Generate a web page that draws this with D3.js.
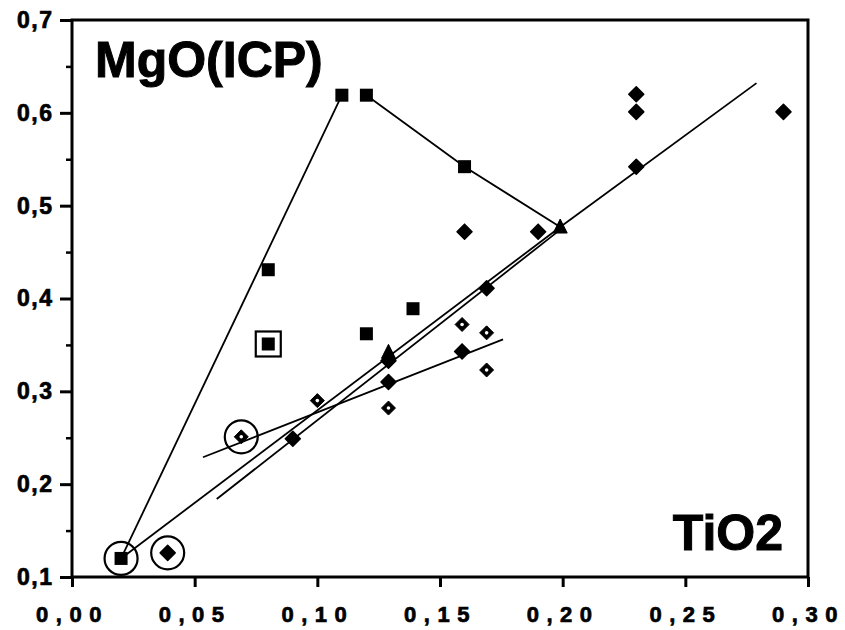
<!DOCTYPE html>
<html><head><meta charset="utf-8">
<script src="https://cdn.jsdelivr.net/npm/d3@7"></script>
<style>
html,body{margin:0;padding:0;background:#fff;}
svg{display:block;}
text{font-family:"Liberation Sans",Arial,Helvetica,sans-serif;font-weight:bold;fill:#000;}
</style></head>
<body>
<script>
// ---- data (TiO2 vs MgO(ICP)) ----
const xTicks = [0.00, 0.05, 0.10, 0.15, 0.20, 0.25, 0.30];
const yTicks = [0.1, 0.2, 0.3, 0.4, 0.5, 0.6, 0.7];
const yMinorTicks = [0.15, 0.25, 0.35, 0.45, 0.55, 0.65];
const squares = [[0.02,0.12],[0.08,0.431],[0.08,0.351],[0.11,0.619],[0.12,0.619],[0.12,0.362],[0.139,0.389],[0.16,0.542]];
const filledDiamonds = [[0.039,0.126],[0.09,0.249],[0.129,0.333],[0.129,0.31],[0.159,0.343],[0.169,0.411],[0.16,0.472],[0.19,0.472],[0.23,0.62],[0.23,0.601],[0.23,0.542],[0.29,0.601]];
const openDiamonds = [[0.069,0.251],[0.10,0.29],[0.129,0.282],[0.159,0.372],[0.169,0.363],[0.169,0.323]];
const triangles = [[0.129,0.342],[0.199,0.477]];
const circled = [[0.02,0.12],[0.039,0.126],[0.069,0.251]];
const boxed = [[0.08,0.351]];
const lineA = [[0.02,0.12],[0.199,0.477]];
const lineB = [[0.059,0.184],[0.198,0.472]];
const lineC = [[0.199,0.477],[0.279,0.632]];
const lineD = [[0.0534,0.229],[0.1757,0.356]];
const lineE = [[0.02,0.12],[0.11,0.619]];
const lineF = [[0.12,0.619],[0.16,0.542],[0.199,0.477]];
const fitLines = [lineA, lineB, lineC, lineD, lineE, lineF];
const yLabel = "MgO(ICP)";
const xLabel = "TiO2";

const W = 845, H = 630;
const mL = 72, mR = 808, mT = 20, mB = 577;
const x = d3.scaleLinear().domain([0, 0.30]).range([mL, mR]);
const y = d3.scaleLinear().domain([0.1, 0.7]).range([mB, mT]);
const fmt = d => d3.format(".2f")(d).replace(".", ",");
const fmtY = d => d3.format(".1f")(d).replace(".", ",");

const svg = d3.select("body").append("svg").attr("width", W).attr("height", H);

// axes
const gy = svg.append("g").attr("transform", `translate(${mL},0)`)
  .call(d3.axisLeft(y).tickValues(yTicks).tickSize(12).tickPadding(6.5).tickFormat(fmtY));
gy.select(".domain").remove();
gy.selectAll(".tick line").attr("stroke", "#000").attr("stroke-width", 3);
gy.selectAll(".tick text").attr("font-size", 23).attr("letter-spacing", 1.5)
  .attr("stroke", "#000").attr("stroke-width", 0.7)
  .attr("font-family", '"Liberation Sans",Arial,sans-serif').attr("font-weight", "bold");

const gym = svg.append("g").attr("transform", `translate(${mL},0)`)
  .call(d3.axisLeft(y).tickValues(yMinorTicks).tickSize(6).tickFormat(""));
gym.select(".domain").remove();
gym.selectAll(".tick line").attr("stroke", "#000").attr("stroke-width", 2.5);

const gx = svg.append("g").attr("transform", `translate(0,${mB})`)
  .call(d3.axisBottom(x).tickValues(xTicks).tickSize(10).tickPadding(19.5).tickFormat(fmt));
gx.select(".domain").remove();
gx.selectAll(".tick line").attr("stroke", "#000").attr("stroke-width", 3);
gx.selectAll(".tick text").attr("font-size", 22).attr("letter-spacing", 7.5)
  .attr("stroke", "#000").attr("stroke-width", 0.7)
  .attr("font-family", '"Liberation Sans",Arial,sans-serif').attr("font-weight", "bold");

// frame
svg.append("rect").attr("x", mL).attr("y", mT).attr("width", mR - mL).attr("height", mB - mT)
  .attr("fill", "none").attr("stroke", "#000").attr("stroke-width", 3);

// lines
const line = d3.line().x(d => x(d[0])).y(d => y(d[1]));
svg.append("g").selectAll("path").data(fitLines).join("path")
  .attr("d", line).attr("fill", "none").attr("stroke", "#000").attr("stroke-width", 1.8);

// circles & box highlights
svg.append("g").selectAll("circle").data(circled).join("circle")
  .attr("cx", d => x(d[0])).attr("cy", d => y(d[1])).attr("r", 16.5)
  .attr("fill", "none").attr("stroke", "#000").attr("stroke-width", 2.2);
svg.append("g").selectAll("rect").data(boxed).join("rect")
  .attr("x", d => x(d[0]) - 12.5).attr("y", d => y(d[1]) - 12.5).attr("width", 25).attr("height", 25)
  .attr("fill", "#fff").attr("stroke", "#000").attr("stroke-width", 2.2);

// markers
svg.append("g").selectAll("rect").data(squares).join("rect")
  .attr("x", d => x(d[0]) - 6.5).attr("y", d => y(d[1]) - 6.5).attr("width", 13).attr("height", 13)
  .attr("fill", "#000");
const diamond = s => `M0,${-s}L${s},0L0,${s}L${-s},0Z`;
svg.append("g").selectAll("path").data(filledDiamonds).join("path")
  .attr("transform", d => `translate(${x(d[0])},${y(d[1])})`)
  .attr("d", diamond(7.5)).attr("fill", "#000").attr("stroke", "#000").attr("stroke-width", 1.5).attr("stroke-linejoin", "round");
const od = svg.append("g").selectAll("g").data(openDiamonds).join("g")
  .attr("transform", d => `translate(${x(d[0])},${y(d[1])})`);
od.append("path").attr("d", diamond(7)).attr("fill", "#000").attr("stroke", "#000").attr("stroke-width", 1).attr("stroke-linejoin", "round");
od.append("circle").attr("r", 1.8).attr("fill", "#fff");
svg.append("g").selectAll("path").data(triangles).join("path")
  .attr("transform", d => `translate(${x(d[0])},${y(d[1])})`)
  .attr("d", "M0,-8L7,6L-7,6Z").attr("fill", "#000").attr("stroke", "#000").attr("stroke-width", 1).attr("stroke-linejoin", "round");

// labels
svg.append("text").attr("x", 95).attr("y", 77).attr("font-size", 50)
  .attr("stroke", "#000").attr("stroke-width", 1).text(yLabel);
svg.append("text").attr("x", 783).attr("y", 550).attr("font-size", 50).attr("text-anchor", "end")
  .attr("stroke", "#000").attr("stroke-width", 1).text(xLabel);
</script>
</body></html>
